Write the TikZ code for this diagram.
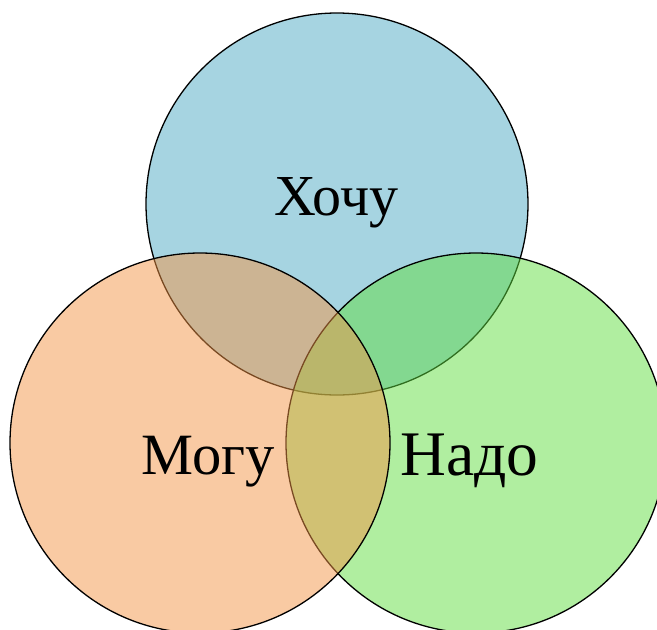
\documentclass[tikz,border=0pt]{standalone}
\usepackage{fontspec}
\setmainfont{Liberation Serif}
\definecolor{cblue}{RGB}{77,169,195}
\definecolor{cgreen}{RGB}{97,221,65}
\definecolor{corange}{RGB}{243,149,71}
\tikzset{
  venn/.style={draw=black, line width=1.3pt, fill opacity=0.5},
  lbl/.style={anchor=base, inner sep=0pt, text=black}
}
\begin{document}
\begin{tikzpicture}[x=1pt,y=-1pt]
\useasboundingbox (0,0) rectangle (657,630);
\begin{scope}
\clip (0,0) rectangle (657,630);
\path[venn, fill=cblue] (337,204) circle[radius=191];
\path[venn, fill=cgreen] (476,443) circle[radius=190];
\path[venn, fill=corange] (200,443) circle[radius=190];
\end{scope}
\node[lbl, font=\fontsize{58}{62}\selectfont] (hochu) at (336.5,215) {Хочу};
\node[lbl, font=\fontsize{58.5}{62}\selectfont] (mogu) at (208,474) {Могу};
\node[lbl, font=\fontsize{63.5}{66}\selectfont] (nado) at (469.5,475) {Надо};
\end{tikzpicture}
\end{document}
